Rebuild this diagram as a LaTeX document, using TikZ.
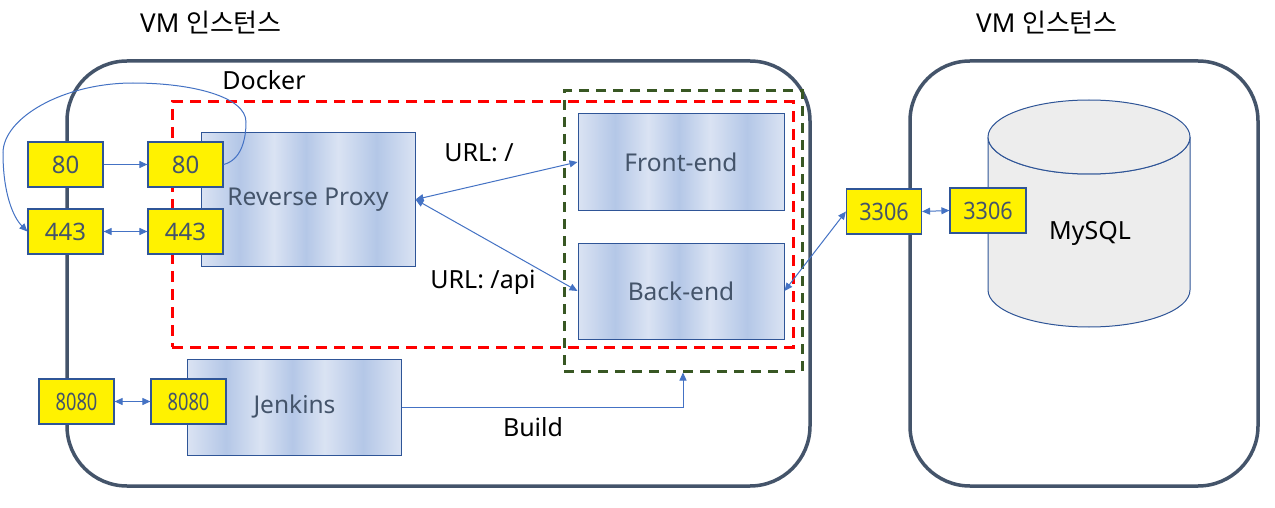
\documentclass[tikz,border=0pt]{standalone}
\usepackage{fontspec}
\setmainfont{Noto Sans}
\newfontfamily\krfont{Noto Sans CJK KR}
\usetikzlibrary{arrows.meta}
\definecolor{vmc}{HTML}{44546A}
\definecolor{conc}{HTML}{4472C4}
\definecolor{bordc}{HTML}{2F5597}
\definecolor{ltb}{HTML}{DAE3F3}
\definecolor{dkb}{HTML}{B4C7E7}
\definecolor{redc}{HTML}{FF0000}
\definecolor{grnc}{HTML}{385723}
\definecolor{dbc}{HTML}{EDEDED}
\pgfdeclarehorizontalshading{stripes}{100bp}{color(0bp)=(ltb); color(25bp)=(ltb); color(34bp)=(dkb); color(42bp)=(ltb); color(49.5bp)=(dkb); color(57bp)=(ltb); color(66bp)=(dkb); color(75bp)=(ltb); color(100bp)=(ltb)}
\begin{document}
\begin{tikzpicture}[x=1pt,y=-1pt,
  vmbox/.style={draw=vmc, line width=3.5pt, rounded corners=60pt},
  port/.style={draw=bordc, line width=1.2pt, fill=yellow, text=vmc, inner sep=0pt,
    minimum width=75pt, minimum height=45pt, font=\fontsize{24}{28}\selectfont},
  svc/.style={draw=bordc, line width=1pt, shading=stripes, text=vmc, inner sep=0pt,
    font=\fontsize{24.5}{28}\selectfont},
  lbl/.style={text=black, inner sep=0pt, font=\fontsize{25}{29}\selectfont},
  grpbox/.style={line width=3pt, inner sep=0pt},
  conn/.style={draw=conc, line width=1pt, >={Triangle[length=8pt,width=7pt]}}
]
\useasboundingbox (0,0) rectangle (1275,508);
\fill[white] (0,0) rectangle (1275,508);

% VM instances
\draw[vmbox] (67,61) rectangle (810,486);
\draw[vmbox] (910,61) rectangle (1258,486);
\node[lbl, font=\fontsize{26}{30}\selectfont] (t1) at (211,23) {VM {\krfont 인스턴스}};
\node[lbl, font=\fontsize{26}{30}\selectfont] (t2) at (1047,23) {VM {\krfont 인스턴스}};
\node[lbl] (dockerlbl) at (264,80) {Docker};

% group boxes
\node[grpbox, draw=redc, dash pattern=on 11pt off 7pt, minimum width=621pt, minimum height=245pt] (docker) at (482.5,224.5) {};
\node[grpbox, draw=grnc, dash pattern=on 10pt off 7pt, minimum width=238pt, minimum height=280pt] (grp) at (683,231) {};

% services
\node[svc, minimum width=214pt, minimum height=133pt] (rp) at (308,199.5) {Reverse Proxy};
\node[svc, minimum width=206pt, minimum height=96pt] (front) at (681,162) {Front-end};
\node[svc, minimum width=206pt, minimum height=96pt] (back) at (681,291) {Back-end};
\node[svc, minimum width=214pt, minimum height=96pt] (jenkins) at (294.5,407) {Jenkins};

% database cylinder
\filldraw[fill=dbc, draw=bordc, line width=1pt] (988,137) -- (988,290) arc[start angle=180, end angle=0, x radius=101, y radius=37] -- (1190,137) arc[start angle=0, end angle=180, x radius=101, y radius=37] -- cycle;
\filldraw[fill=dbc, draw=bordc, line width=1pt] (1089,137) ellipse [x radius=101, y radius=37];
\node[lbl] (mysql) at (1090,233) {MySQL};

% ports
\node[port] (p80a) at (65.5,164.5) {80};
\node[port] (p80b) at (185.5,164.5) {80};
\node[port] (p443a) at (65.5,231.5) {443};
\node[port] (p443b) at (185.5,231.5) {443};
\node[port] (p8080a) at (76.5,401.5) {\scalebox{0.76}[1]{8080}};
\node[port] (p8080b) at (188.5,401.5) {\scalebox{0.76}[1]{8080}};
\node[port] (p3306a) at (884,211.5) {\scalebox{0.9}[1]{3306}};
\node[port, minimum width=76pt] (p3306b) at (988,210.5) {\scalebox{0.9}[1]{3306}};

% labels
\node[lbl] (url1) at (479,153) {URL: /};
\node[lbl] (url2) at (483,282) {URL: /api};
\node[lbl] (buildlbl) at (533,427) {Build};

% connectors
\draw[conn,->] (p80a.east) -- (p80b.west);
\draw[conn,<->] (p443a.east) -- (p443b.west);
\draw[conn,<->] (p8080a.east) -- (p8080b.west);
\draw[conn,<->] (p3306a.east) -- (p3306b.west);
\draw[conn,<->] (rp.east) -- (front.west);
\draw[conn,<->] (rp.east) -- (back.west);
\draw[conn,<->] (back.east) -- (p3306a.west);
\draw[conn,->] (jenkins.east) -| (grp.south);
\draw[conn,->] (p80b.east) .. controls (241,160) and (246,140) .. (246,122)
  .. controls (246,97) and (193,83) .. (133,83)
  .. controls (63,83) and (3,118) .. (3,153)
  .. controls (3,193) and (13,217) .. (p443a.west);
\end{tikzpicture}
\end{document}
